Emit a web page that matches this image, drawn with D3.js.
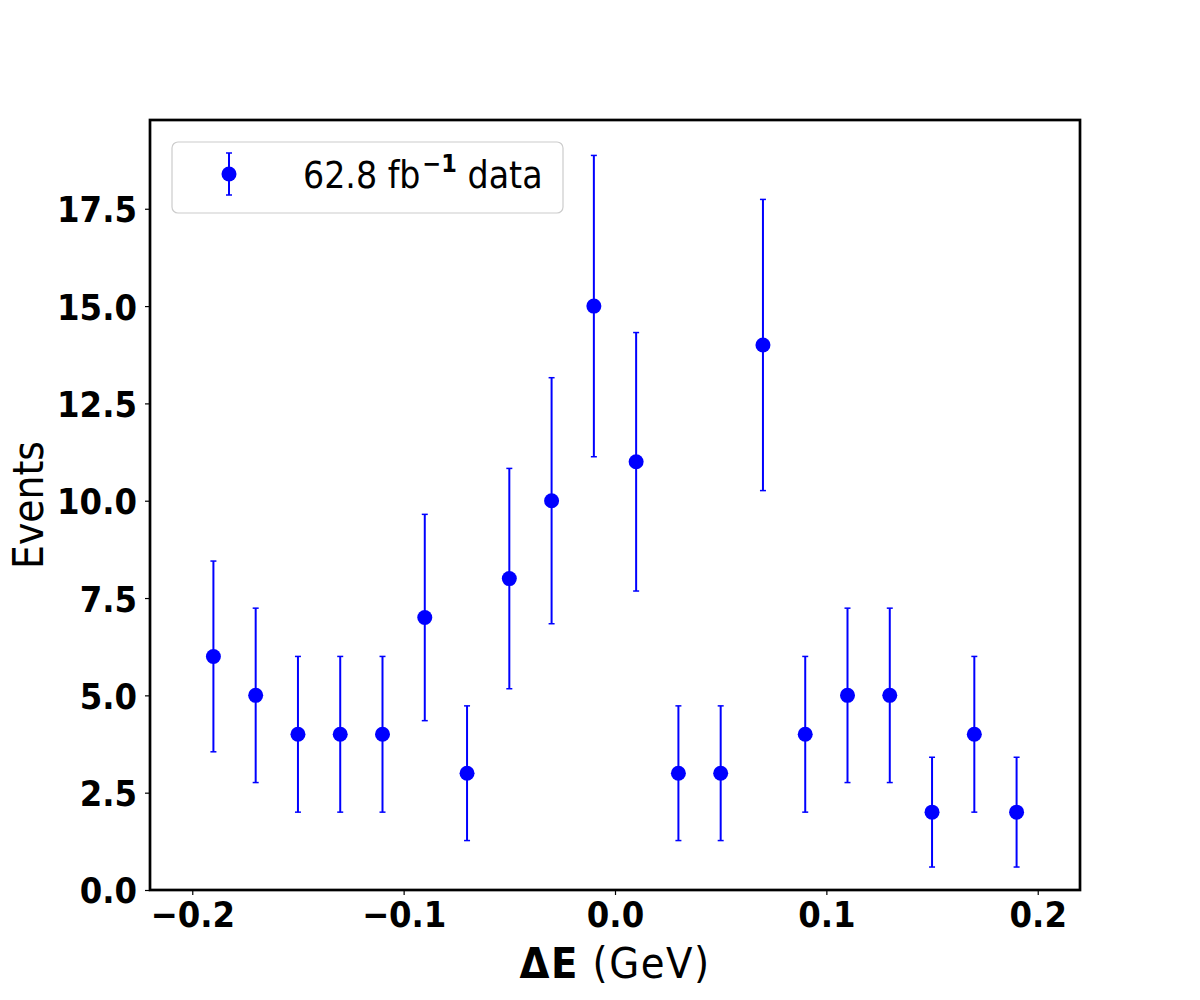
<!DOCTYPE html>
<html>
<head>
<meta charset="utf-8">
<script src="https://cdn.jsdelivr.net/npm/d3@7"></script>
<style>
  body { margin: 0; background: #fff; }
  text { font-family: 'DejaVu Sans Condensed', 'DejaVu Sans', sans-serif; font-stretch: condensed; }
</style>
</head>
<body>
<div id="chart"></div>
<script>
// bin centres (GeV), event counts and error bar half-widths
const binCentres = [-0.19, -0.17, -0.15, -0.13, -0.11, -0.09, -0.07, -0.05, -0.03, -0.01,
                    0.01, 0.03, 0.05, 0.07, 0.09, 0.11, 0.13, 0.15, 0.17, 0.19];
const events = [6, 5, 4, 4, 4, 7, 3, 8, 10, 15, 11, 3, 3, 14, 4, 5, 5, 2, 4, 2];
const errors = [2.45, 2.24, 2.0, 2.0, 2.0, 2.65, 1.73, 2.83, 3.16, 3.87,
                3.32, 1.73, 1.73, 3.74, 2.0, 2.24, 2.24, 1.41, 2.0, 1.41];
const xTicks = [-0.2, -0.1, 0.0, 0.1, 0.2];
const yTicks = [0, 2.5, 5, 7.5, 10, 12.5, 15, 17.5];

const width = 1200, height = 1000;
const margin = { top: 120, right: 120, bottom: 110, left: 150 };
const blue = '#0000ff';

const svg = d3.select('#chart')
    .append('svg')
    .attr('width', width)
    .attr('height', height);

const x = d3.scaleLinear().domain([-0.22, 0.22]).range([margin.left, width - margin.right]);
const y = d3.scaleLinear().domain([0, 19.78]).range([height - margin.bottom, margin.top]);

// axes
const xAxis = svg.append('g')
    .attr('transform', `translate(0,${height - margin.bottom})`)
    .call(d3.axisBottom(x).tickValues(xTicks).tickFormat(d3.format('.1f')).tickSize(5).tickPadding(6));
const yAxis = svg.append('g')
    .attr('transform', `translate(${margin.left},0)`)
    .call(d3.axisLeft(y).tickValues(yTicks).tickFormat(d3.format('.1f')).tickSize(5).tickPadding(8));

[xAxis, yAxis].forEach(g => {
    g.select('.domain').remove();
    g.selectAll('.tick line').attr('stroke', '#000').attr('stroke-width', 1.2);
    g.selectAll('.tick text')
        .attr('fill', '#000')
        .style('font-size', '36px')
        .style('font-weight', 'bold');
});
yAxis.selectAll('.tick text').attr('dy', '0.36em');
xAxis.selectAll('.tick text').attr('dy', '0.72em');

// frame
svg.append('rect')
    .attr('x', margin.left)
    .attr('y', margin.top)
    .attr('width', width - margin.left - margin.right)
    .attr('height', height - margin.top - margin.bottom)
    .attr('fill', 'none')
    .attr('stroke', '#000')
    .attr('stroke-width', 2.7);

// error bars
const pts = binCentres.map((c, i) => ({ c: c, n: events[i], e: errors[i] }));
const bars = svg.append('g');
bars.selectAll('line.err')
    .data(pts)
    .join('line')
    .attr('class', 'err')
    .attr('x1', d => x(d.c)).attr('x2', d => x(d.c))
    .attr('y1', d => y(d.n - d.e)).attr('y2', d => y(d.n + d.e))
    .attr('stroke', blue).attr('stroke-width', 2);
['lo', 'hi'].forEach(k => {
    bars.selectAll('line.cap' + k)
        .data(pts)
        .join('line')
        .attr('class', 'cap' + k)
        .attr('x1', d => x(d.c) - 3).attr('x2', d => x(d.c) + 3)
        .attr('y1', d => y(k === 'lo' ? d.n - d.e : d.n + d.e))
        .attr('y2', d => y(k === 'lo' ? d.n - d.e : d.n + d.e))
        .attr('stroke', blue).attr('stroke-width', 1.5);
});
bars.selectAll('circle')
    .data(pts)
    .join('circle')
    .attr('cx', d => x(d.c))
    .attr('cy', d => y(d.n))
    .attr('r', 7.5)
    .attr('fill', blue);

// legend
const leg = svg.append('g');
leg.append('rect')
    .attr('x', 172).attr('y', 142)
    .attr('width', 391).attr('height', 71)
    .attr('rx', 6)
    .attr('fill', '#fff').attr('fill-opacity', 0.8)
    .attr('stroke', '#cccccc').attr('stroke-width', 1.2);
leg.append('line')
    .attr('x1', 229).attr('x2', 229).attr('y1', 153).attr('y2', 195)
    .attr('stroke', blue).attr('stroke-width', 2);
[153, 195].forEach(cy => leg.append('line')
    .attr('x1', 226).attr('x2', 232).attr('y1', cy).attr('y2', cy)
    .attr('stroke', blue).attr('stroke-width', 1.5));
leg.append('circle').attr('cx', 229).attr('cy', 174).attr('r', 7.5).attr('fill', blue);
const lt = leg.append('text')
    .attr('x', 303).attr('y', 188)
    .style('font-size', '37px')
    .attr('fill', '#000');
lt.append('tspan').text('62.8 fb');
lt.append('tspan').text('−1').attr('dx', 2).attr('dy', -16).style('font-size', '25px').style('font-weight', 'bold');
lt.append('tspan').text('\u00a0data').attr('dy', 16);

// axis labels
const xl = svg.append('text')
    .attr('x', x(0)).attr('y', 978)
    .attr('text-anchor', 'middle')
    .style('font-size', '43px')
    .style('letter-spacing', '1.5px')
    .attr('fill', '#000');
xl.append('tspan').text('ΔE').style('font-weight', 'bold');
xl.append('tspan').text(' (GeV)');

svg.append('text')
    .attr('transform', `translate(43,${y(9.89)}) rotate(-90)`)
    .attr('text-anchor', 'middle')
    .style('font-size', '42px')
    .attr('fill', '#000')
    .text('Events');
</script>
</body>
</html>
